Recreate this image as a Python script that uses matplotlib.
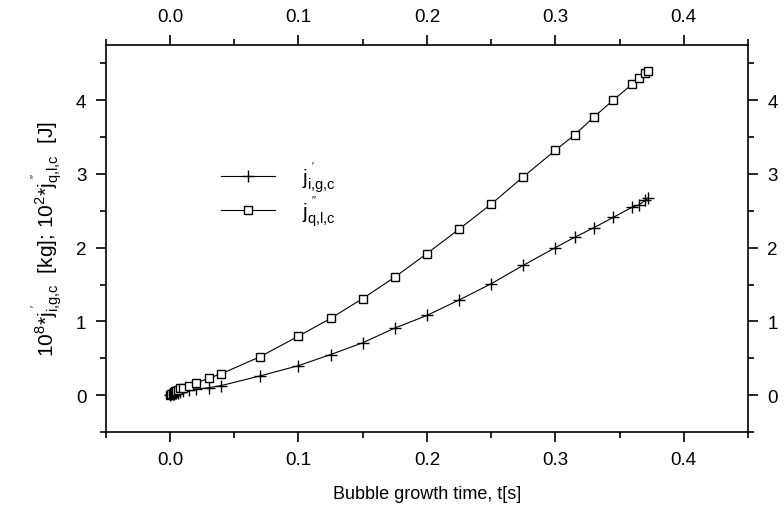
import numpy
import matplotlib
matplotlib.use("Agg")
from matplotlib import pyplot

pyplot.rcParams["font.family"] = "Liberation Sans"
pyplot.rcParams["mathtext.fontset"] = "custom"
pyplot.rcParams["mathtext.rm"] = "Liberation Sans"
pyplot.rcParams["mathtext.it"] = "Liberation Sans"

# bubble growth time [s]
t = [0.0, 0.001, 0.002, 0.003, 0.004, 0.005, 0.006, 0.008, 0.01, 0.015, 0.02,
     0.03, 0.04, 0.07, 0.1, 0.125, 0.15, 0.175, 0.2, 0.225, 0.25, 0.275, 0.3,
     0.315, 0.33, 0.345, 0.36, 0.365, 0.37, 0.372]
# 10^8 * j'_{i,g,c} [kg]
j_igc = [0.0, 0.01, 0.015, 0.02, 0.025, 0.03, 0.035, 0.04, 0.05, 0.07, 0.08,
         0.10, 0.13, 0.26, 0.40, 0.55, 0.71, 0.91, 1.08, 1.29, 1.51, 1.76, 2.0,
         2.14, 2.27, 2.41, 2.55, 2.58, 2.64, 2.67]
# 10^2 * j''_{q,l,c} [J]
j_qlc = [0.0, 0.02, 0.03, 0.04, 0.05, 0.06, 0.07, 0.09, 0.10, 0.13, 0.16,
         0.23, 0.29, 0.52, 0.80, 1.04, 1.31, 1.60, 1.92, 2.25, 2.59, 2.96, 3.32,
         3.53, 3.77, 4.0, 4.22, 4.30, 4.37, 4.40]

lab_g = r"$\mathrm{j}^{\,\,'}_{\mathrm{i{,}g{,}c}}$"
lab_q = r"$\mathrm{j}^{\,\,''}_{\mathrm{q{,}l{,}c}}$"

fig = pyplot.figure(figsize=(7.84, 5.10), dpi=100)
ax = fig.add_axes([0.135, 0.151, 0.819, 0.759])

ax.plot(t, j_igc, color="black", linewidth=0.8, marker="+", markersize=9,
        markeredgewidth=1.0, label=lab_g)
ax.plot(t, j_qlc, color="black", linewidth=0.8, marker="s", markersize=6.3,
        markerfacecolor="white", markeredgewidth=1.0, label=lab_q)

ax.set_xlim(-0.05, 0.45)
ax.set_ylim(-0.5, 4.75)
ax.set_xticks([0.0, 0.1, 0.2, 0.3, 0.4])
ax.set_xticks(numpy.arange(-0.05, 0.46, 0.1), minor=True)
ax.set_yticks([0, 1, 2, 3, 4])
ax.set_yticks([-0.5, 0.5, 1.5, 2.5, 3.5, 4.5], minor=True)
ax.xaxis.set_major_formatter(matplotlib.ticker.FormatStrFormatter("%.1f"))

ax.tick_params(which="both", direction="out", top=True, right=True,
               labeltop=True, labelright=True, labelsize=13.5, width=1.2,
               pad=7)
ax.tick_params(which="major", length=7)
ax.tick_params(which="minor", length=4)
for s in ax.spines.values():
    s.set_linewidth(1.2)

ax.set_xlabel("Bubble growth time, t[s]", fontsize=13, labelpad=12)
ax.set_ylabel(r"$10^8$*" + lab_g + "  [kg]; " + r"$10^2$*" + lab_q + "  [J]",
              fontsize=15, labelpad=8)

ax.legend(loc="upper left", bbox_to_anchor=(0.15, 0.75), frameon=False,
          fontsize=15, handlelength=2.6, handletextpad=1.3, labelspacing=-0.05)

pyplot.savefig("out.png", dpi=100)
